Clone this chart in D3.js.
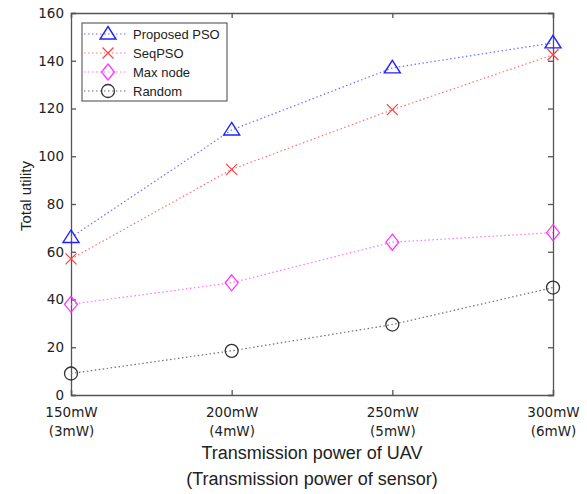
<!DOCTYPE html>
<html>
<head>
<meta charset="utf-8">
<script src="https://cdn.jsdelivr.net/npm/d3@7"></script>
<style>
  body { margin: 0; background: #fff; }
  svg { font-family: "Liberation Sans", Arial, sans-serif; }
  .axis path, .axis line { stroke: #555; stroke-width: 1.3px; }
  .axis text { fill: #222; font-size: 13.5px; font-family: "DejaVu Sans", sans-serif; }
</style>
</head>
<body>
<div id="container"></div>
<script>
  // x categories (two-line tick labels)
  let uavPower = ["150mW", "200mW", "250mW", "300mW"];
  let sensorPower = ["(3mW)", "(4mW)", "(5mW)", "(6mW)"];
  let yTicks = [0, 20, 40, 60, 80, 100, 120, 140, 160];

  let proposedPSO = [66, 111, 137, 147.5];
  let seqPSO = [57, 94.5, 119.5, 142.5];
  let maxNode = [38, 47, 64, 68];
  let randomSel = [9, 18.5, 29.5, 45];

  let seriesNames = ["Proposed PSO", "SeqPSO", "Max node", "Random"];
  let seriesValues = [proposedPSO, seqPSO, maxNode, randomSel];

  let styles = [
    { line: "#6f6fff", marker: "triangle", color: "#2020ff" },
    { line: "#ff7070", marker: "x", color: "#ff4040" },
    { line: "#ff70ff", marker: "diamond", color: "#ff30ff" },
    { line: "#707070", marker: "circle", color: "#333" }
  ];

  let margin = { top: 13, right: 34, bottom: 99, left: 71 };
  let width = 587 - margin.left - margin.right;
  let height = 494 - margin.top - margin.bottom;

  let scaleX = d3.scalePoint()
    .domain(uavPower)
    .range([0, width]);

  let scaleY = d3.scaleLinear()
    .domain([0, 160])
    .range([height, 0]);

  let svg = d3.select("#container").append("svg")
    .attr("width", 587)
    .attr("height", 494)
    .append("g")
    .attr("transform", "translate(" + margin.left + "," + margin.top + ")");

  // axes, MATLAB-like box with inward ticks
  let xAxis = svg.append("g")
    .attr("class", "x axis")
    .attr("transform", "translate(0," + height + ")")
    .call(d3.axisBottom(scaleX).tickSize(-5).tickPadding(10));
  xAxis.selectAll(".tick text").each(function(d, i) {
    let t = d3.select(this).attr("dy", null).text(null);
    t.append("tspan").attr("x", 0).attr("dy", 12).text(d);
    t.append("tspan").attr("x", 0).attr("dy", 19).text(sensorPower[i]);
  });

  svg.append("g")
    .attr("class", "x axis")
    .call(d3.axisTop(scaleX).tickSize(-5).tickFormat(""));

  svg.append("g")
    .attr("class", "y axis")
    .call(d3.axisLeft(scaleY).tickValues(yTicks).tickSize(-5).tickPadding(7));

  svg.append("g")
    .attr("class", "y axis")
    .attr("transform", "translate(" + width + ",0)")
    .call(d3.axisRight(scaleY).tickValues(yTicks).tickSize(-5).tickFormat(""));

  svg.selectAll(".axis .domain").attr("fill", "none");

  function drawMarker(g, type, color) {
    if (type === "triangle") {
      g.append("path").attr("d", "M0,-7.5L8,5L-8,5Z")
        .attr("fill", "none").attr("stroke", color).attr("stroke-width", 1.4);
    } else if (type === "x") {
      g.append("path").attr("d", "M-5.5,-5.5L5.5,5.5M-5.5,5.5L5.5,-5.5")
        .attr("fill", "none").attr("stroke", color).attr("stroke-width", 1.2);
    } else if (type === "diamond") {
      g.append("path").attr("d", "M0,-8L6.5,0L0,8L-6.5,0Z")
        .attr("fill", "none").attr("stroke", color).attr("stroke-width", 1.2);
    } else {
      g.append("circle").attr("r", 6.5)
        .attr("fill", "none").attr("stroke", color).attr("stroke-width", 1.3);
    }
  }

  let line = d3.line()
    .x(function(d, i) { return scaleX(uavPower[i]); })
    .y(function(d) { return scaleY(d); });

  seriesValues.forEach(function(vals, s) {
    svg.append("path")
      .datum(vals)
      .attr("fill", "none")
      .attr("stroke", styles[s].line)
      .attr("stroke-width", 1.2)
      .attr("stroke-dasharray", "1.5,2.5")
      .attr("d", line);
    vals.forEach(function(v, i) {
      let g = svg.append("g")
        .attr("transform", "translate(" + scaleX(uavPower[i]) + "," + scaleY(v) + ")");
      drawMarker(g, styles[s].marker, styles[s].color);
    });
  });

  // legend
  let legend = svg.append("g")
    .attr("transform", "translate(" + (82 - margin.left) + "," + (23 - margin.top) + ")");
  legend.append("rect")
    .attr("width", 145).attr("height", 78)
    .attr("fill", "#fff").attr("stroke", "#444").attr("stroke-width", 1);
  seriesNames.forEach(function(name, s) {
    let y = 11 + s * 19;
    legend.append("line")
      .attr("x1", 2).attr("x2", 46).attr("y1", y).attr("y2", y)
      .attr("stroke", styles[s].line).attr("stroke-width", 1.2)
      .attr("stroke-dasharray", "1.5,2.5");
    let g = legend.append("g").attr("transform", "translate(26," + y + ")");
    drawMarker(g, styles[s].marker, styles[s].color);
    legend.append("text")
      .attr("x", 51).attr("y", y).attr("dy", "0.35em")
      .attr("font-size", 13).attr("fill", "#222")
      .text(name);
  });

  // axis titles
  svg.append("text")
    .attr("transform", "translate(-40," + (height / 2 - 8) + ") rotate(-90)")
    .attr("text-anchor", "middle")
    .attr("font-size", 15).attr("fill", "#222")
    .text("Total utility");

  svg.append("text")
    .attr("x", width / 2).attr("y", height + 64)
    .attr("text-anchor", "middle")
    .attr("font-size", 18).attr("fill", "#222")
    .text("Transmission power of UAV");

  svg.append("text")
    .attr("x", width / 2).attr("y", height + 90)
    .attr("text-anchor", "middle")
    .attr("font-size", 18).attr("fill", "#222")
    .text("(Transmission power of sensor)");
</script>
</body>
</html>
